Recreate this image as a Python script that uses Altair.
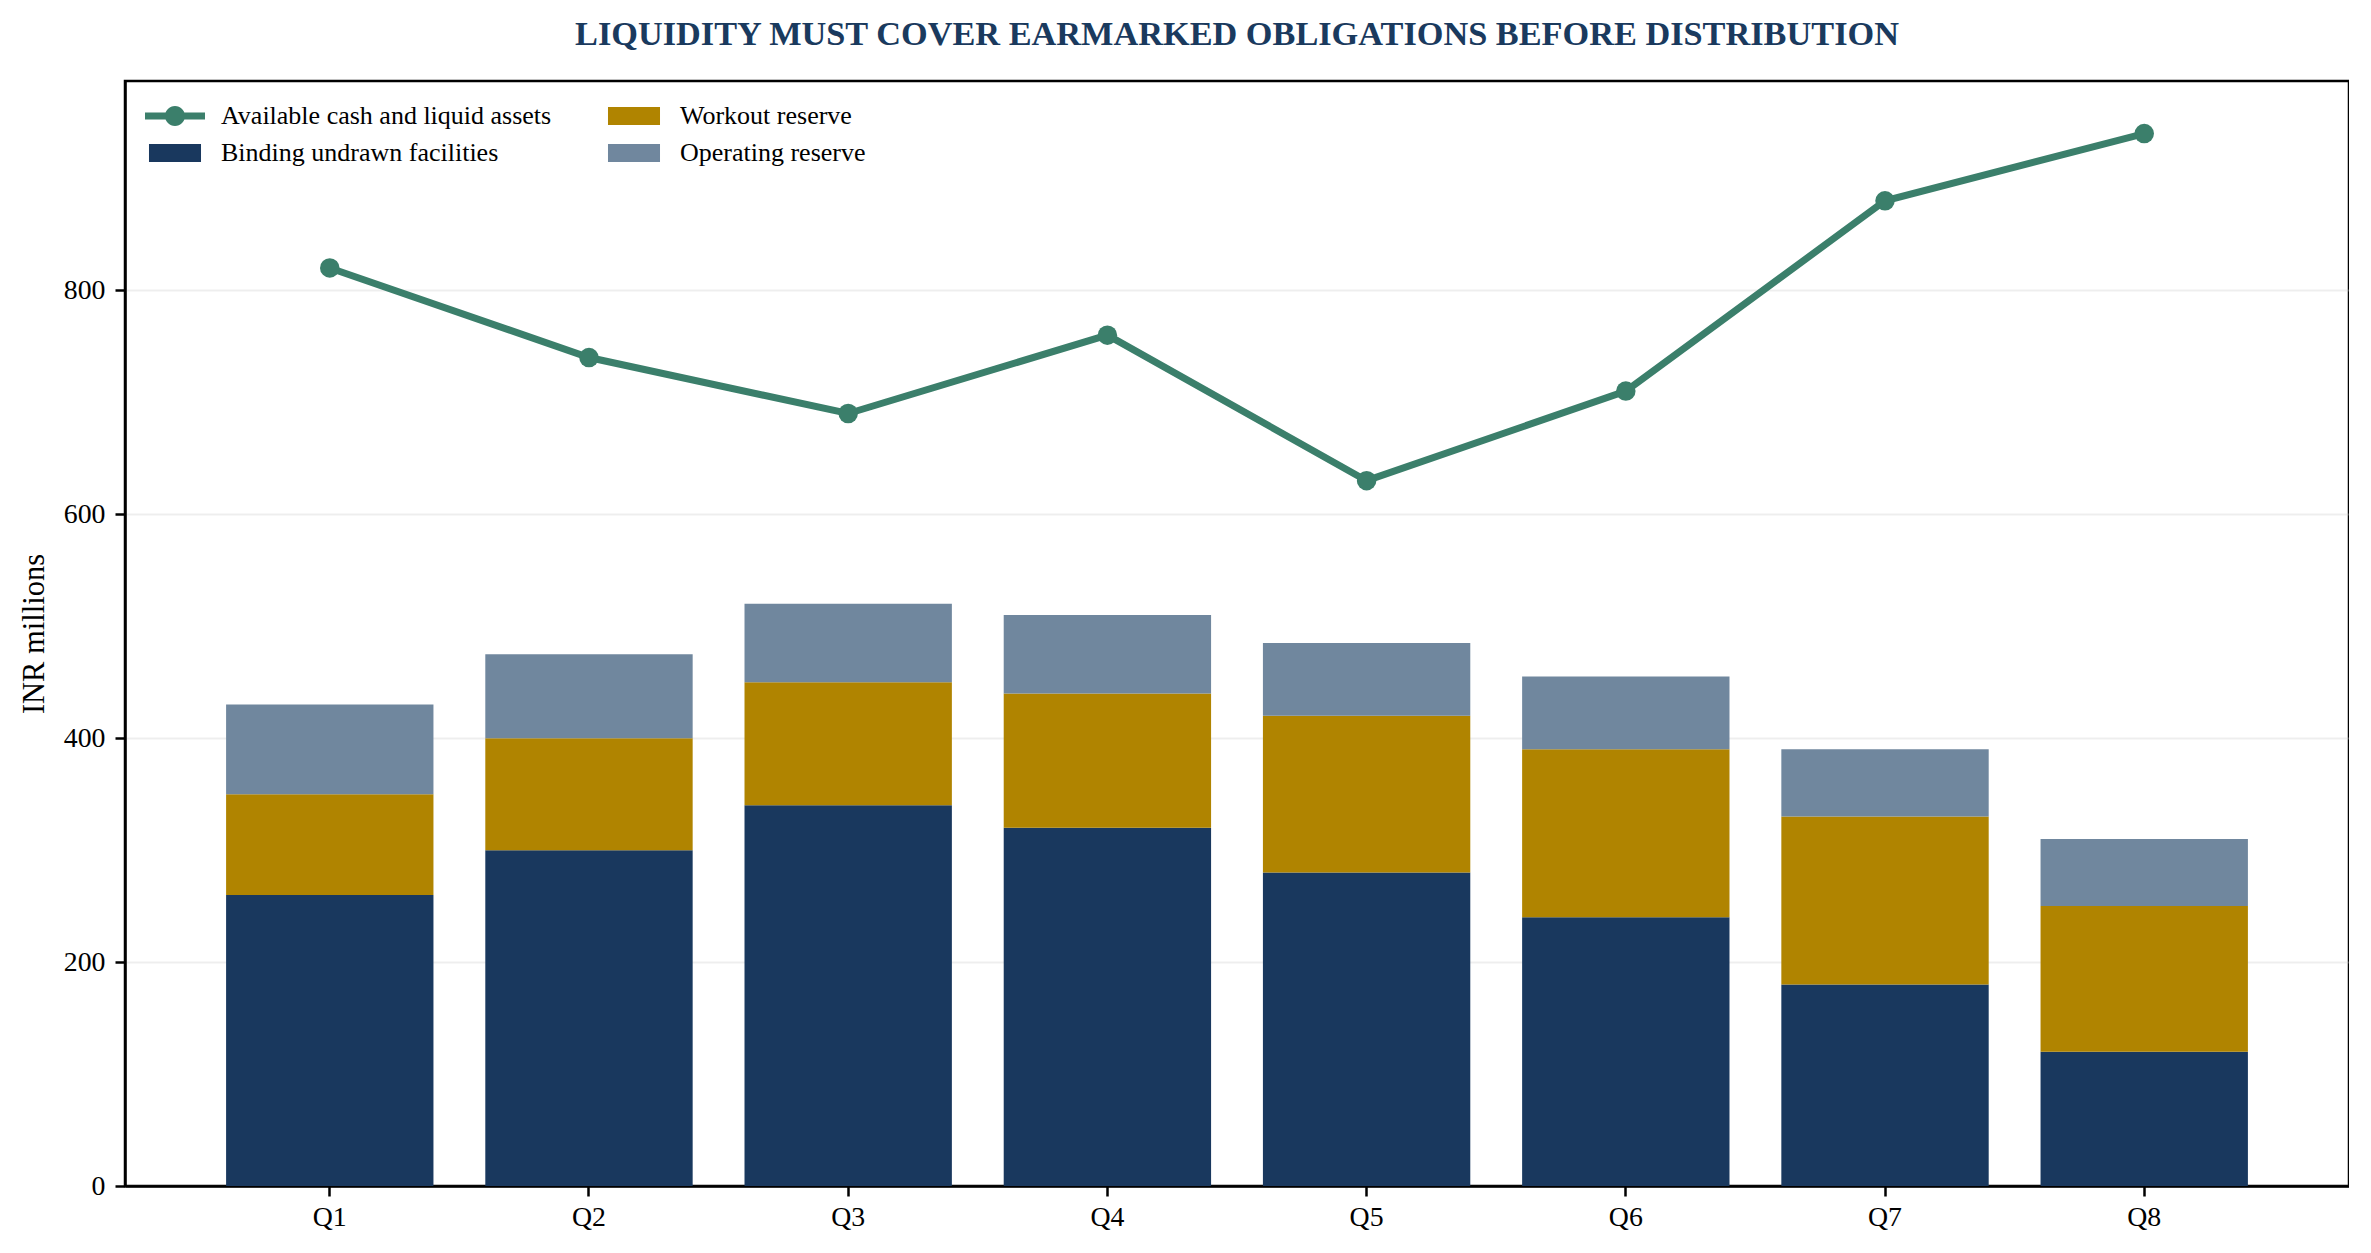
import altair as alt
import pandas as pd

quarters = ["Q1", "Q2", "Q3", "Q4", "Q5", "Q6", "Q7", "Q8"]
binding = [260, 300, 340, 320, 280, 240, 180, 120]
workout = [90, 100, 110, 120, 140, 150, 150, 130]
operating = [80, 75, 70, 70, 65, 65, 60, 60]
available = [820, 740, 690, 760, 630, 710, 880, 940]

LINE = "Available cash and liquid assets"
BIND = "Binding undrawn facilities"
WORK = "Workout reserve"
OPER = "Operating reserve"

LINE_COLOR = "#3b7f6b"
# bar legend is a 2-column grid filled column by column; the blank first
# slot sits under the line legend so binding facilities lands below it
bar_order = ["", BIND, WORK, OPER]
bar_colors = ["transparent", "#19385e", "#b08400", "#70879e"]

FONT = "Liberation Serif"

bars = pd.DataFrame({
    "quarter": quarters * 3,
    "series": [BIND] * 8 + [WORK] * 8 + [OPER] * 8,
    "value": binding + workout + operating,
    "rank": [0] * 8 + [1] * 8 + [2] * 8,
})
cash = pd.DataFrame({"quarter": quarters, "series": LINE, "value": available})

# legend handles: line with a dot, and flat patches
LINE_SYMBOL = ("M-1,-0.117L1,-0.117L1,0.117L-1,0.117Z"
               "M0.333,0A0.333,0.333 0 1,1 -0.333,0A0.333,0.333 0 1,1 0.333,0Z")
PATCH_SYMBOL = "M-0.867,-0.3L0.867,-0.3L0.867,0.3L-0.867,0.3Z"

legend_common = dict(
    title=None, orient="none", legendX=20, legendY=21,
    rowPadding=9, clipHeight=28, padding=0,
    symbolSize=3600, symbolStrokeWidth=0, symbolOpacity=1,
    labelFont=FONT, labelFontSize=26, labelColor="black",
    labelOffset=16, labelLimit=800,
)

x = alt.X("quarter:N", sort=quarters, title=None,
          scale=alt.Scale(paddingInner=0.2, paddingOuter=0.39),
          axis=alt.Axis(labelAngle=0, grid=False, labelPadding=7))

y_scale = alt.Scale(domain=[0, 987], nice=False, zero=True)
y_axis = alt.Axis(values=[0, 200, 400, 600, 800], title="INR millions",
                  grid=True, labelPadding=10, titlePadding=14)

bar_layer = alt.Chart(bars).mark_bar().encode(
    x=x,
    y=alt.Y("value:Q", stack="zero", scale=y_scale, axis=y_axis),
    color=alt.Color("series:N",
                    scale=alt.Scale(domain=bar_order, range=bar_colors),
                    legend=alt.Legend(columns=2, columnPadding=105,
                                      symbolType=PATCH_SYMBOL, **legend_common)),
    order=alt.Order("rank:Q", sort="ascending"),
)

line_layer = alt.Chart(cash).mark_line(strokeWidth=7, color=LINE_COLOR).encode(
    x=x,
    y=alt.Y("value:Q", scale=y_scale, axis=y_axis),
)

point_layer = alt.Chart(cash).mark_circle(size=380, opacity=1).encode(
    x=x,
    y=alt.Y("value:Q", scale=y_scale, axis=y_axis),
    color=alt.Color("series:N",
                    scale=alt.Scale(domain=[LINE], range=[LINE_COLOR]),
                    legend=alt.Legend(symbolType=LINE_SYMBOL, **legend_common)),
)

chart = alt.layer(bar_layer, line_layer, point_layer).resolve_scale(
    color="independent"
).properties(
    width=2224,
    height=1105,
    padding={"left": 11, "top": 9, "right": 0, "bottom": 0},
    title=alt.TitleParams(
        "LIQUIDITY MUST COVER EARMARKED OBLIGATIONS BEFORE DISTRIBUTION",
        font=FONT, fontSize=34.3, fontWeight="bold", color="#1a3a5e",
        anchor="middle", frame="group", baseline="alphabetic", offset=2,
    ),
).configure_view(
    stroke="black", strokeWidth=2.5
).configure_axis(
    labelFont=FONT, labelFontSize=27.8, labelColor="black",
    titleFont=FONT, titleFontSize=30.5, titleFontWeight="normal", titleColor="black",
    domainColor="black", domainWidth=2.5,
    tickColor="black", tickWidth=2.5, tickSize=10,
    gridColor="#c8c8c8", gridOpacity=0.3, gridWidth=2,
    zindex=1,
)

chart.save("out.html", embed_options={"renderer": "svg", "actions": False})
